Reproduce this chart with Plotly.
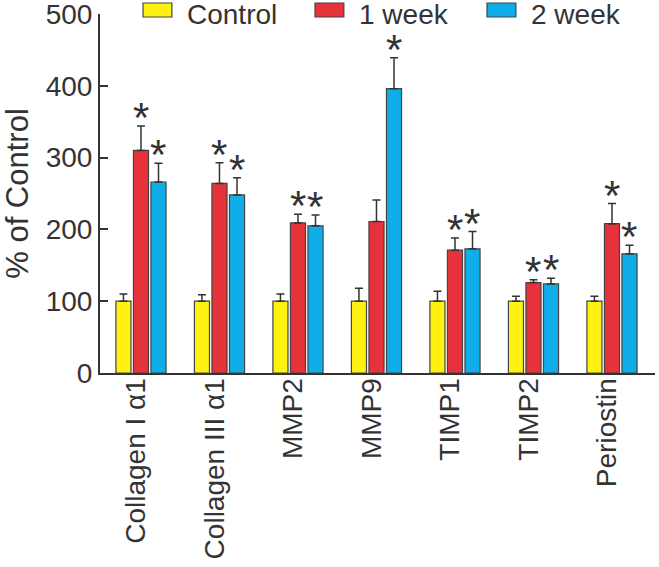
import plotly.graph_objects as go

genes = ['Collagen I α1', 'Collagen III α1', 'MMP2', 'MMP9', 'TIMP1', 'TIMP2', 'Periostin']
series = ['Control', '1 week', '2 week']

control = [100, 100, 100, 100, 100, 100, 100]
control_err = [10, 9, 10, 18, 14, 7, 7]
week1 = [310, 264, 209, 211, 171, 126, 208]
week1_err = [34, 29, 12, 30, 17, 4, 28]
week2 = [266, 248, 205, 396, 173, 124, 166]
week2_err = [26, 24, 15, 43, 24, 8, 12]

# significance marks (True = asterisk above the bar)
week1_sig = [True, True, True, False, True, True, True]
week2_sig = [True, True, True, True, True, True, True]

colors = ['#FFF212', '#E6323B', '#10AEE9']
ink = '#333333'
font = 'Liberation Sans, Arial, sans-serif'

x = list(range(len(genes)))
fig = go.Figure()
for name, vals, errs, col in zip(series, [control, week1, week2],
                                 [control_err, week1_err, week2_err], colors):
    fig.add_trace(go.Bar(
        x=x, y=vals, name=name, marker_color=col,
        marker_line=dict(color='#444444', width=1.2),
        error_y=dict(type='data', array=errs, arrayminus=[0] * len(errs),
                     symmetric=False, color=ink, thickness=1.5, width=4),
        showlegend=False))

# asterisks
slot = 17.5
for vals, errs, sig, shift in [(week1, week1_err, week1_sig, 0),
                               (week2, week2_err, week2_sig, slot)]:
    for i, (v, e, s) in enumerate(zip(vals, errs, sig)):
        if s:
            fig.add_annotation(x=i, y=v + e, text='*', showarrow=False,
                               xshift=shift, yshift=-17, yanchor='bottom',
                               font=dict(size=42, color=ink, family=font))

# legend drawn by hand so swatches match the original size
leg_x = [0.0775, 0.3874, 0.6973]
for name, col, lx in zip(series, colors, leg_x):
    fig.add_shape(type='rect', xref='paper', yref='paper',
                  x0=lx, x1=lx + 0.052, y0=0.9916, y1=1.0306,
                  fillcolor=col, line=dict(color='#444444', width=1.2))
    fig.add_annotation(xref='paper', yref='paper', x=lx + 0.075, y=1.0,
                       text=name, showarrow=False, xanchor='left', yanchor='middle',
                       font=dict(size=28, color=ink, family=font))

fig.update_layout(
    width=659, height=567,
    margin=dict(l=100, r=4, t=14, b=194),
    plot_bgcolor='white', paper_bgcolor='white',
    barmode='group', bargap=0.33, bargroupgap=0.14,
    font=dict(family=font, size=28, color=ink),
)
fig.update_xaxes(range=[-0.522, 6.548], tickvals=[i - 0.06 for i in x], ticktext=genes,
                 tickangle=-90, ticklabelstandoff=-8, automargin=False,
                 showline=True, linecolor=ink, linewidth=2, ticks='',
                 showgrid=False, zeroline=False)
fig.update_yaxes(range=[0, 500], tickvals=[0, 100, 200, 300, 400, 500],
                 showline=True, linecolor=ink, linewidth=2, ticks='inside',
                 ticklen=8, tickwidth=2, tickcolor=ink, showgrid=False,
                 ticklabeloverflow='allow', automargin=False, zeroline=False,
                 title=dict(text='% of Control', standoff=16, font=dict(size=31)))

fig.write_html('out.html', config={'displayModeBar': False},
               post_script="document.body.style.margin='0';")
